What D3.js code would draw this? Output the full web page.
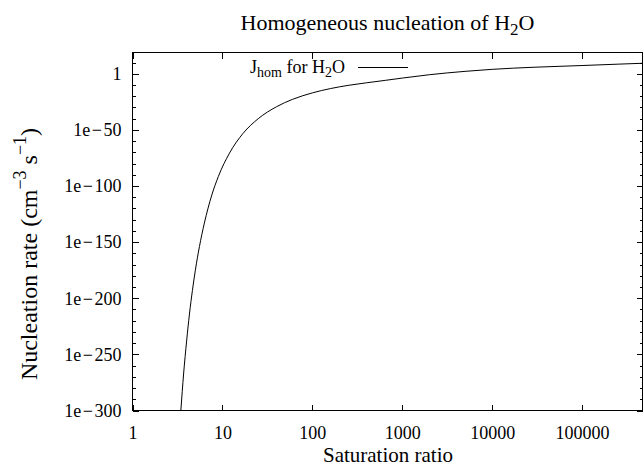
<!DOCTYPE html>
<html><head><meta charset="utf-8">
<script src="https://cdn.jsdelivr.net/npm/d3@7"></script>
<style>
html,body{margin:0;padding:0;background:#fff;}
svg{display:block;}
text{font-family:"Liberation Serif","DejaVu Serif","Times New Roman",Times,serif;}
</style></head>
<body>
<svg id="chart" width="644" height="466"></svg>
<script>
// Data
const saturation = [3.45, 3.7, 4.0, 4.3, 4.64, 5.0, 5.55, 6.3, 7.62, 9, 12, 17, 25, 40, 60, 100, 160, 250, 400, 650, 1000, 2000, 5000, 1e4, 3e4, 1e5, 2.5e5, 4.7e5];
const rateExp = [-300, -267.5, -238, -214, -193, -175, -154, -133, -108, -91.6, -70.6, -53, -40, -29.3, -22.8, -17, -13.1, -10.3, -8, -5.8, -3.8, -0.8, 2.2, 4, 5.9, 7.4, 8.6, 9.4];
const nucleationRate = rateExp.map(e => Math.pow(10, e));
const xTickValues = [1, 10, 100, 1000, 10000, 100000];
const xTickLabels = ["1", "10", "100", "1000", "10000", "100000"];
const yTickValues = [1e-300, 1e-250, 1e-200, 1e-150, 1e-100, 1e-50, 1];
const yTickLabels = ["1e\u200A\u2212\u200A300", "1e\u200A\u2212\u200A250", "1e\u200A\u2212\u200A200", "1e\u200A\u2212\u200A150", "1e\u200A\u2212\u200A100", "1e\u200A\u2212\u200A50", "1"];
const yMinorExps = [-290,-280,-270,-260,-240,-230,-220,-210,-190,-180,-170,-160,-140,-130,-120,-110,-90,-80,-70,-60,-40,-30,-20,-10,10];
const yMinorValues = yMinorExps.map(e => Math.pow(10, e));

const FONT = "'Liberation Serif','DejaVu Serif','Times New Roman',Times,serif";
const L = 132.5, R = 642.5, T = 52.5, B = 410.5;
const svg = d3.select("#chart");
const x = d3.scaleLog().domain([1, 4.7e5]).range([L, R]);
const y = d3.scaleLog().domain([1e-300, 1e19]).range([B, T]);

const g = svg.append("g");
g.append("rect").attr("x", L).attr("y", T).attr("width", R - L).attr("height", B - T)
  .attr("fill", "none").attr("stroke", "#000").attr("stroke-width", 1).attr("shape-rendering", "crispEdges");

function styleAxis(sel) {
  sel.attr("font-family", FONT).attr("font-size", 18);
  sel.select(".domain").remove();
  sel.selectAll("line").attr("stroke", "#000").attr("shape-rendering", "crispEdges");
  sel.selectAll("text").attr("fill", "#000").attr("font-family", FONT).attr("font-size", 18);
}

g.append("g").attr("transform", `translate(0,${B})`)
  .call(d3.axisBottom(x).tickValues(xTickValues).tickFormat((d, i) => xTickLabels[i])
    .tickSizeInner(-6).tickSizeOuter(0).tickPadding(15.5)).call(styleAxis);
g.append("g").attr("transform", `translate(0,${T})`)
  .call(d3.axisTop(x).tickValues(xTickValues).tickFormat("").tickSizeInner(-6).tickSizeOuter(0)).call(styleAxis);

g.append("g").attr("transform", `translate(${L},0)`)
  .call(d3.axisLeft(y).tickValues(yTickValues).tickFormat((d, i) => yTickLabels[i])
    .tickSizeInner(-6).tickSizeOuter(0).tickPadding(11)).call(styleAxis);
g.append("g").attr("transform", `translate(${L},0)`)
  .call(d3.axisLeft(y).tickValues(yMinorValues).tickFormat("").tickSizeInner(-3).tickSizeOuter(0)).call(styleAxis);
g.append("g").attr("transform", `translate(${R},0)`)
  .call(d3.axisRight(y).tickValues(yTickValues).tickFormat("").tickSizeInner(-6).tickSizeOuter(0)).call(styleAxis);
g.append("g").attr("transform", `translate(${R},0)`)
  .call(d3.axisRight(y).tickValues(yMinorValues).tickFormat("").tickSizeInner(-3).tickSizeOuter(0)).call(styleAxis);

const data = saturation.map((s, i) => [s, nucleationRate[i]]);
const line = d3.line().x(d => x(d[0])).y(d => y(d[1])).curve(d3.curveMonotoneX);
g.append("path").datum(data).attr("d", line).attr("fill", "none").attr("stroke", "#000").attr("stroke-width", 1);

// legend
const lt = g.append("text").attr("x", 345).attr("y", 73).attr("text-anchor", "end").attr("font-size", 18);
lt.append("tspan").text("J");
lt.append("tspan").attr("dy", 4).attr("font-size", 14).text("hom");
lt.append("tspan").attr("dy", -4).text(" for H");
lt.append("tspan").attr("dy", 4).attr("font-size", 14).text("2");
lt.append("tspan").attr("dy", -4).text("O");
g.append("line").attr("x1", 358).attr("x2", 408).attr("y1", 67.5).attr("y2", 67.5)
  .attr("stroke", "#000").attr("stroke-width", 1);

// title
const tt = svg.append("text").attr("x", 387.5).attr("y", 30).attr("text-anchor", "middle").attr("font-size", 22);
tt.append("tspan").text("Homogeneous nucleation of H");
tt.append("tspan").attr("dy", 5).attr("font-size", 17).text("2");
tt.append("tspan").attr("dy", -5).text("O");

// x label
svg.append("text").attr("x", 388).attr("y", 462).attr("text-anchor", "middle").attr("font-size", 21)
  .text("Saturation ratio");

// y label
const yl = svg.append("text").attr("transform", "translate(37,254) rotate(-90)").attr("text-anchor", "middle")
  .attr("font-size", 24);
yl.append("tspan").text("Nucleation rate (cm");
yl.append("tspan").attr("dy", -11).attr("font-size", 18).text("\u22123");
yl.append("tspan").attr("dy", 11).text(" s");
yl.append("tspan").attr("dy", -11).attr("font-size", 18).text("\u22121");
yl.append("tspan").attr("dy", 11).text(")");
</script>
</body></html>
